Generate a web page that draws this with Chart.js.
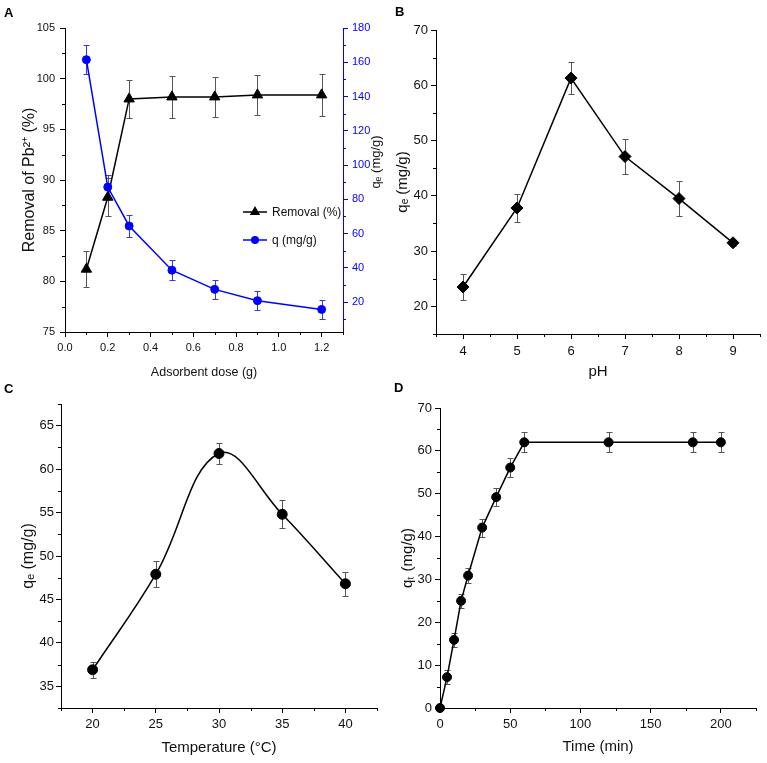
<!DOCTYPE html>
<html>
<head>
<meta charset="utf-8">
<script src="https://cdn.jsdelivr.net/npm/chart.js@4.4.0/dist/chart.umd.min.js"></script>
<style>
  body { margin: 0; background: #fff; }
  #wrap { position: relative; width: 767px; height: 763px; }
  .panel { position: absolute; }
  .lbl { position: absolute; font: bold 13px "Liberation Sans", Arial, sans-serif; line-height: 1; color: #000; }
</style>
</head>
<body>
<div id="wrap">
  <div class="panel" style="left:0;top:0;width:383px;height:380px"><canvas id="cA"></canvas></div>
  <div class="panel" style="left:383px;top:0;width:384px;height:380px"><canvas id="cB"></canvas></div>
  <div class="panel" style="left:0;top:380px;width:383px;height:383px"><canvas id="cC"></canvas></div>
  <div class="panel" style="left:383px;top:380px;width:384px;height:383px"><canvas id="cD"></canvas></div>
  <div class="lbl" style="left:4px;top:6px">A</div>
  <div class="lbl" style="left:395px;top:5px">B</div>
  <div class="lbl" style="left:4px;top:382px">C</div>
  <div class="lbl" style="left:394px;top:381px">D</div>
</div>
<script>
// ---- data ----
const doseX = [0.1, 0.2, 0.3, 0.5, 0.7, 0.9, 1.2];
const removal = [81.2, 88.3, 98.0, 98.2, 98.2, 98.4, 98.4];
const removalErr = [1.8, 1.9, 1.9, 2.1, 2.0, 2.0, 2.1];
const qDose = [161.5, 87.1, 64.4, 38.6, 27.4, 20.8, 15.7];
const qDoseErr = [8.4, 6.8, 6.4, 5.7, 5.7, 5.5, 5.5];

const phX = [4, 5, 6, 7, 8, 9];
const qePh = [23.5, 37.8, 61.3, 47.1, 39.5, 31.5];
const qePhErr = [2.3, 2.6, 2.9, 3.1, 3.2, 0.5];

const tempX = [20, 25, 30, 35, 40];
const qeTemp = [36.9, 47.9, 61.8, 54.8, 46.8];
const qeTempErr = [0.9, 1.5, 1.2, 1.6, 1.4];

const timeX = [0, 5, 10, 15, 20, 30, 40, 50, 60, 120, 180, 200];
const qtTime = [0, 7.2, 15.9, 25.0, 30.9, 42.1, 49.2, 56.1, 62.0, 62.0, 62.0, 62.0];
const qtErr = [0, 1.7, 1.7, 1.7, 1.8, 2.1, 2.1, 2.2, 2.3, 2.3, 2.3, 2.3];

// ---- tick labels ----
const doseTicks = [0, 0.2, 0.4, 0.6, 0.8, 1.0, 1.2];
const removalTicks = [75, 80, 85, 90, 95, 100, 105];
const qDoseTicks = [20, 40, 60, 80, 100, 120, 140, 160, 180];
const phTicks = [4, 5, 6, 7, 8, 9];
const phYTicks = [20, 30, 40, 50, 60, 70];
const tempTicks = [20, 25, 30, 35, 40];
const tempYTicks = [35, 40, 45, 50, 55, 60, 65];
const timeTicks = [0, 50, 100, 150, 200];
const timeYTicks = [0, 10, 20, 30, 40, 50, 60, 70];

Chart.defaults.font.family = '"Liberation Sans", Arial, sans-serif';
Chart.defaults.color = '#111';

function pts(xs, ys) {
  return xs.map((x, i) => ({x: x, y: ys[i]}));
}

// halfway ticks between the labelled ones, inside [min, max]
function minorOf(majors, min, max) {
  const step = majors[1] - majors[0];
  const out = [];
  for (let v = majors[0] - step / 2; v <= max + 1e-9; v += step) {
    if (v >= min - 1e-9) out.push(+v.toFixed(4));
  }
  return out;
}

function axis(o) {
  const col = o.color || '#000';
  return {
    type: 'linear',
    position: o.pos,
    min: o.min,
    max: o.max,
    afterBuildTicks: s => { s.ticks = o.ticks.map(v => ({value: v})); },
    afterFit: s => { if (o.pos === 'bottom') s.height = o.size; else s.width = o.size; },
    border: {display: true, color: col, width: 1},
    grid: {drawOnChartArea: false, drawTicks: true, tickLength: 5, tickColor: col, tickWidth: 1},
    ticks: {
      autoSkip: false, maxRotation: 0, padding: o.pad,
      color: o.tickColor || '#111', font: {size: o.fs},
      callback: o.fmt || (v => v)
    },
    title: o.title ? {
      display: true, text: o.title, color: '#111',
      font: {size: o.tfs, lineHeight: 1},
      padding: {top: o.tpad, bottom: o.tpad}
    } : {display: false}
  };
}

const errorBars = {
  id: 'errorBars',
  beforeDatasetsDraw(chart) {
    const ctx = chart.ctx;
    chart.data.datasets.forEach((ds, i) => {
      if (!ds.errors) return;
      const meta = chart.getDatasetMeta(i);
      const xs = chart.scales[meta.xAxisID];
      const ys = chart.scales[meta.yAxisID];
      ctx.save();
      ctx.strokeStyle = ds.errorColor || '#555';
      ctx.lineWidth = 1;
      ctx.beginPath();
      ds.data.forEach((p, j) => {
        const e = ds.errors[j];
        if (!e) return;
        const x = Math.round(xs.getPixelForValue(p.x)) + 0.5;
        const y1 = Math.round(ys.getPixelForValue(p.y + e)) + 0.5;
        const y2 = Math.round(ys.getPixelForValue(p.y - e)) + 0.5;
        ctx.moveTo(x, y1); ctx.lineTo(x, y2);
        ctx.moveTo(x - 3, y1); ctx.lineTo(x + 3, y1);
        ctx.moveTo(x - 3, y2); ctx.lineTo(x + 3, y2);
      });
      ctx.stroke();
      ctx.restore();
    });
  }
};

function minorTicks(list) {
  return {
    id: 'minorTicks',
    afterDraw(chart) {
      const ctx = chart.ctx;
      list.forEach(m => {
        const s = chart.scales[m.axis];
        ctx.save();
        ctx.strokeStyle = m.color || '#000';
        ctx.lineWidth = 1;
        ctx.beginPath();
        m.values.forEach(v => {
          const p = Math.round(s.getPixelForValue(v)) + 0.5;
          if (s.isHorizontal()) { ctx.moveTo(p, s.top); ctx.lineTo(p, s.top + 3); }
          else if (s.position === 'left') { ctx.moveTo(s.right, p); ctx.lineTo(s.right - 3, p); }
          else { ctx.moveTo(s.left, p); ctx.lineTo(s.left + 3, p); }
        });
        ctx.stroke();
        ctx.restore();
      });
    }
  };
}

function marker(ctx, style, x, y, r) {
  ctx.beginPath();
  if (style === 'triangle') {
    ctx.moveTo(x, y - r);
    ctx.lineTo(x - r * 0.866, y + r * 0.5);
    ctx.lineTo(x + r * 0.866, y + r * 0.5);
    ctx.closePath();
  } else {
    ctx.arc(x, y, r, 0, Math.PI * 2);
  }
  ctx.fill();
}

// legend inside panel A plus its right-hand axis title
const extrasA = {
  id: 'extrasA',
  afterDraw(chart) {
    const ctx = chart.ctx;
    const rows = [
      {ds: chart.data.datasets[1], y: 212},
      {ds: chart.data.datasets[0], y: 240}
    ];
    ctx.save();
    ctx.font = '12px "Liberation Sans", Arial, sans-serif';
    ctx.textBaseline = 'middle';
    rows.forEach(r => {
      ctx.strokeStyle = r.ds.borderColor;
      ctx.fillStyle = r.ds.borderColor;
      ctx.lineWidth = 1.5;
      ctx.beginPath(); ctx.moveTo(243, r.y); ctx.lineTo(267, r.y); ctx.stroke();
      marker(ctx, r.ds.pointStyle, 255, r.y, r.ds.pointStyle === 'triangle' ? 6 : 4);
      ctx.fillStyle = '#111';
      ctx.fillText(r.ds.label, 272, r.y + 1);
    });
    ctx.translate(376, 162);
    ctx.rotate(-Math.PI / 2);
    ctx.textAlign = 'center';
    ctx.font = '13px "Liberation Sans", Arial, sans-serif';
    ctx.fillStyle = '#111';
    ctx.fillText('qₑ (mg/g)', 0, 0);
    ctx.restore();
  }
};

function baseOptions(pad, scales) {
  return {
    animation: false,
    responsive: true,
    maintainAspectRatio: false,
    layout: {padding: pad},
    plugins: {legend: {display: false}, tooltip: {enabled: false}},
    scales: scales
  };
}

function series(o) {
  return Object.assign({
    borderColor: '#000', backgroundColor: '#000',
    pointBorderColor: '#000', pointBackgroundColor: '#000',
    borderWidth: 1.5, pointBorderWidth: 1, fill: false, clip: false,
    errorColor: '#555', tension: 0
  }, o);
}

// ---- A ----
new Chart(document.getElementById('cA'), {
  type: 'line',
  data: {
    datasets: [
      series({label: 'q (mg/g)', data: pts(doseX, qDose), errors: qDoseErr, yAxisID: 'y2',
        borderColor: '#0000ff', backgroundColor: '#0000ff', pointBorderColor: '#0000ff',
        pointBackgroundColor: '#0000ff', errorColor: '#3333ff', pointStyle: 'circle', pointRadius: 4}),
      series({label: 'Removal (%)', data: pts(doseX, removal), errors: removalErr, yAxisID: 'y',
        pointStyle: 'triangle', pointRadius: 6})
    ]
  },
  options: baseOptions({top: 28, right: 0, left: 0, bottom: 0}, {
    x: axis({pos: 'bottom', min: 0, max: 1.3, ticks: doseTicks, size: 48, pad: 4, fs: 11,
      fmt: v => v.toFixed(1), title: 'Adsorbent dose (g)', tfs: 12.5, tpad: 1}),
    y: axis({pos: 'left', min: 75, max: 105, ticks: removalTicks, size: 65, pad: 5, fs: 11,
      title: 'Removal of Pb²⁺ (%)', tfs: 16, tpad: 22}),
    y2: axis({pos: 'right', min: 2.5, max: 180, ticks: qDoseTicks, size: 40, pad: 4, fs: 11,
      color: '#0000ff', tickColor: '#0000ff'})
  }),
  plugins: [errorBars, extrasA, minorTicks([
    {axis: 'x', values: minorOf(doseTicks, 0, 1.3)},
    {axis: 'y', values: minorOf(removalTicks, 75, 105)},
    {axis: 'y2', values: minorOf(qDoseTicks, 2.5, 180), color: '#0000ff'}
  ])]
});

// ---- B ----
new Chart(document.getElementById('cB'), {
  type: 'line',
  data: {datasets: [series({label: 'qe', data: pts(phX, qePh), errors: qePhErr,
    pointStyle: 'rectRot', pointRadius: 6})]},
  options: baseOptions({top: 30, right: 6, left: 0, bottom: 0}, {
    x: axis({pos: 'bottom', min: 3.5, max: 9.5, ticks: phTicks, size: 46, pad: 5, fs: 13,
      title: 'pH', tfs: 15, tpad: 0.5}),
    y: axis({pos: 'left', min: 15, max: 70, ticks: phYTicks, size: 53, pad: 3, fs: 13,
      title: 'qₑ (mg/g)', tfs: 15, tpad: 12.5})
  }),
  plugins: [errorBars, minorTicks([
    {axis: 'x', values: minorOf(phTicks, 3.5, 9.5)},
    {axis: 'y', values: minorOf(phYTicks, 15, 70)}
  ])]
});

// ---- C ----
new Chart(document.getElementById('cC'), {
  type: 'line',
  data: {datasets: [series({label: 'qe', data: pts(tempX, qeTemp), errors: qeTempErr,
    pointStyle: 'circle', pointRadius: 5, tension: 0.4})]},
  options: baseOptions({top: 24, right: 1, left: 0, bottom: 0}, {
    x: axis({pos: 'bottom', min: 17.5, max: 42.5, ticks: tempTicks, size: 55, pad: 4, fs: 13,
      title: 'Temperature (°C)', tfs: 15, tpad: 7.5}),
    y: axis({pos: 'left', min: 32.5, max: 67.5, ticks: tempYTicks, size: 61, pad: 2, fs: 13,
      title: 'qₑ (mg/g)', tfs: 16, tpad: 21})
  }),
  plugins: [errorBars, minorTicks([
    {axis: 'x', values: minorOf(tempTicks, 17.5, 42.5)},
    {axis: 'y', values: minorOf(tempYTicks, 32.5, 67.5)}
  ])]
});

// ---- D ----
new Chart(document.getElementById('cD'), {
  type: 'line',
  data: {datasets: [series({label: 'qt', data: pts(timeX, qtTime), errors: qtErr,
    pointStyle: 'circle', pointRadius: 4.5})]},
  options: baseOptions({top: 28, right: 11, left: 0, bottom: 0}, {
    x: axis({pos: 'bottom', min: 0, max: 225, ticks: timeTicks, size: 55, pad: 4, fs: 13,
      title: 'Time (min)', tfs: 15, tpad: 8.8}),
    y: axis({pos: 'left', min: 0, max: 70, ticks: timeYTicks, size: 57, pad: 3, fs: 13,
      title: 'qₜ (mg/g)', tfs: 15, tpad: 17.5})
  }),
  plugins: [errorBars, minorTicks([
    {axis: 'x', values: minorOf(timeTicks, 0, 225)},
    {axis: 'y', values: minorOf(timeYTicks, 0, 70)}
  ])]
});
</script>
</body>
</html>
